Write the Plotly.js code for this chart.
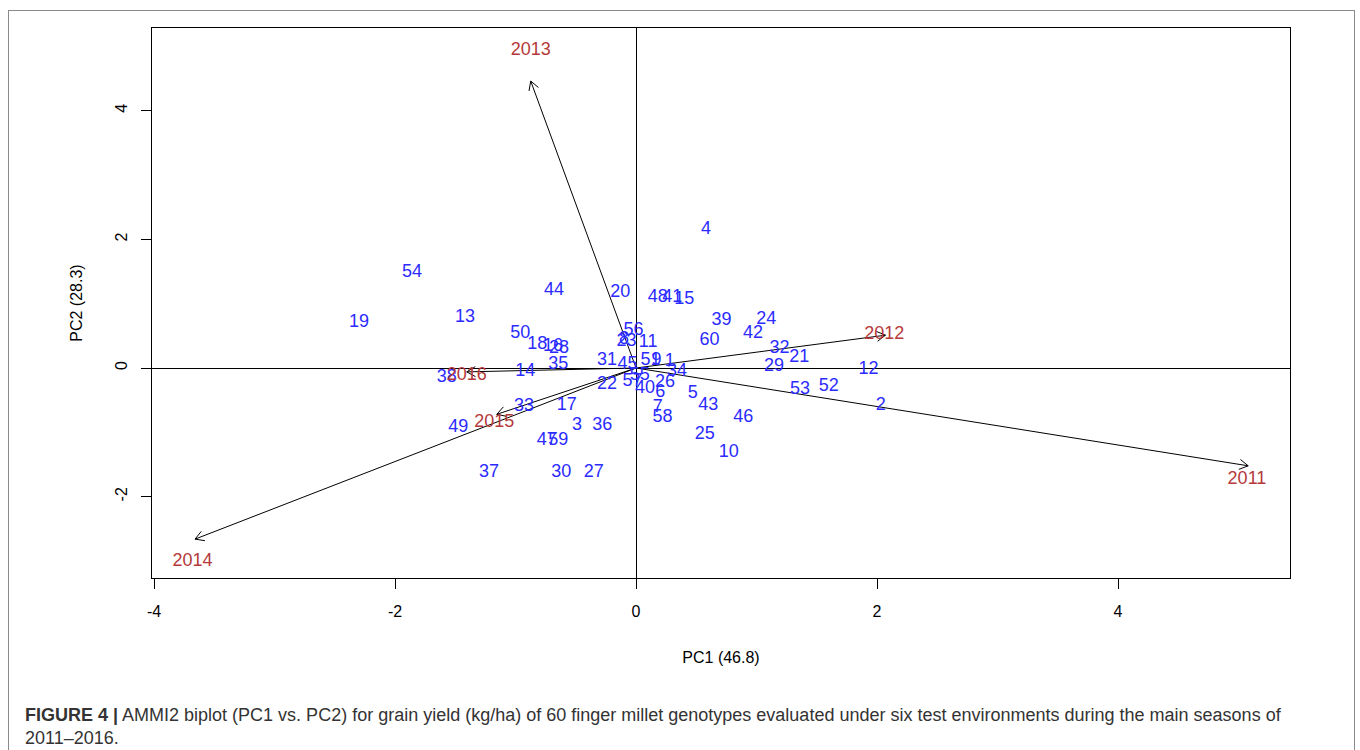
<!DOCTYPE html>
<html>
<head>
<meta charset="utf-8">
<script src="https://cdn.plot.ly/plotly-3.0.1.min.js"></script>
<style>
  html, body { margin: 0; padding: 0; background: #fff; }
  #wrap { position: relative; width: 1360px; height: 750px; overflow: hidden; }
  #frame { position: absolute; left: 8px; top: 10px; width: 1347px; height: 760px; border: 1.5px solid #8a8a8a; box-sizing: border-box; }
  #chart { position: absolute; left: 0; top: 0; width: 1360px; height: 750px; }
  #caption { position: absolute; left: 25px; top: 704px; font-family: "Liberation Sans", Arial, sans-serif; font-size: 18px; line-height: 23px; color: #333; white-space: nowrap; }
</style>
</head>
<body>
<div id="wrap">
  <div id="frame"></div>
  <div id="chart"></div>
  <div id="caption"><b>FIGURE 4 |</b> AMMI2 biplot (PC1 vs. PC2) for grain yield (kg/ha) of 60 finger millet genotypes evaluated under six test environments during the main seasons of<br>2011–2016.</div>
</div>
<script>
// Genotype labels and their PC1 / PC2 scores
const genotypes = ["1","2","3","4","5","6","7","8","9","10","11","12","13","14","15","16","17","18","19","20",
  "21","22","23","24","25","26","27","28","29","30","31","32","33","34","35","36","37","38","39","40",
  "41","42","43","44","45","46","47","48","49","50","51","52","53","54","55","56","57","58","59","60"];
const genPC1 = [0.28, 2.03, -0.49, 0.58, 0.47, 0.20, 0.18, -0.10, 0.17, 0.77, 0.10, 1.93, -1.42, -0.92, 0.40, -0.69, -0.575, -0.82, -2.30, -0.13,
  1.355, -0.24, -0.08, 1.08, 0.57, 0.24, -0.35, -0.64, 1.145, -0.62, -0.24, 1.19, -0.93, 0.34, -0.645, -0.28, -1.22, -1.57, 0.71, 0.075,
  0.30, 0.97, 0.60, -0.68, -0.07, 0.89, -0.74, 0.18, -1.475, -0.96, 0.12, 1.60, 1.36, -1.86, 0.03, -0.02, -0.03, 0.22, -0.645, 0.61];
const genPC2 = [0.10, -0.59, -0.90, 2.15, -0.39, -0.38, -0.62, 0.45, 0.11, -1.32, 0.39, -0.02, 0.78, -0.06, 1.06, 0.34, -0.59, 0.37, 0.70, 1.17,
  0.17, -0.25, 0.41, 0.76, -1.04, -0.23, -1.63, 0.31, 0.02, -1.63, 0.12, 0.31, -0.60, -0.06, 0.05, -0.89, -1.62, -0.145, 0.735, -0.32,
  1.09, 0.54, -0.59, 1.20, 0.05, -0.77, -1.12, 1.09, -0.92, 0.53, 0.12, -0.28, -0.33, 1.49, -0.12, 0.59, -0.21, -0.77, -1.12, 0.435];

// Environments: arrow tips and label positions
const envs = ["2011","2012","2013","2014","2015","2016"];
const envPC1 = [5.08, 2.07, -0.874, -3.66, -1.156, -1.405];
const envPC2 = [-1.52, 0.51, 4.46, -2.66, -0.72, -0.06];
const envLabPC1 = [5.07, 2.06, -0.874, -3.68, -1.176, -1.405];
const envLabPC2 = [-1.74, 0.52, 4.93, -3.00, -0.845, -0.11];

const xTicks = [-4, -2, 0, 2, 4];
const yTicks = [-2, 0, 2, 4];

const xRange = [-4.017, 5.427];
const yRange = [-3.264, 5.285];
const M = {l: 152, r: 70, t: 28, b: 172};
const W = 1360, H = 750;
const pxX = (W - M.l - M.r) / (xRange[1] - xRange[0]);
const pxY = (H - M.t - M.b) / (yRange[1] - yRange[0]);

const FONT = '"Liberation Sans", Arial, sans-serif';
const traces = [];

// arrow shafts and open heads
const ax = [], ay = [];
const headLen = 10, headAng = Math.PI / 6;
for (let i = 0; i < envs.length; i++) {
  const tx = envPC1[i], ty = envPC2[i];
  ax.push(0, tx, null); ay.push(0, ty, null);
  const ux = tx * pxX, uy = ty * pxY;
  const n = Math.hypot(ux, uy);
  const dx = ux / n, dy = uy / n;
  for (const s of [1, -1]) {
    const c = Math.cos(s * headAng), sn = Math.sin(s * headAng);
    const rx = dx * c - dy * sn, ry = dx * sn + dy * c;
    ax.push(tx, tx - headLen * rx / pxX, null);
    ay.push(ty, ty - headLen * ry / pxY, null);
  }
}
traces.push({x: ax, y: ay, mode: 'lines', line: {color: '#000', width: 1}, hoverinfo: 'skip', showlegend: false});

traces.push({x: genPC1, y: genPC2, text: genotypes, mode: 'text', textposition: 'middle center',
  textfont: {family: FONT, size: 18, color: '#2b2bff'}, showlegend: false, hoverinfo: 'text'});

traces.push({x: envLabPC1, y: envLabPC2, text: envs, mode: 'text', textposition: 'middle center',
  textfont: {family: FONT, size: 18, color: '#b5393a'}, showlegend: false, hoverinfo: 'text'});

const layout = {
  width: W, height: H,
  margin: M,
  paper_bgcolor: 'rgba(0,0,0,0)', plot_bgcolor: '#fff',
  font: {family: FONT, size: 16, color: '#000'},
  xaxis: {range: xRange, tickvals: xTicks, ticktext: xTicks.map(String), ticks: 'outside', ticklen: 10, tickcolor: '#000',
    ticklabelstandoff: 9,
    showline: true, mirror: true, linecolor: '#000', linewidth: 1, showgrid: false,
    zeroline: true, zerolinecolor: '#000', zerolinewidth: 1,
    tickfont: {size: 16}, title: {text: 'PC1 (46.8)', font: {size: 16}, standoff: 32}},
  yaxis: {range: yRange, tickvals: yTicks, ticktext: yTicks.map(String), ticks: 'outside', ticklen: 10, tickcolor: '#000',
    tickangle: -90, ticklabelstandoff: 8,
    showline: true, mirror: true, linecolor: '#000', linewidth: 1, showgrid: false,
    zeroline: true, zerolinecolor: '#000', zerolinewidth: 1,
    tickfont: {size: 16}, title: {text: 'PC2 (28.3)', font: {size: 16}, standoff: 25}},
  showlegend: false
};

Plotly.newPlot('chart', traces, layout, {displayModeBar: false, staticPlot: true});
</script>
</body>
</html>
